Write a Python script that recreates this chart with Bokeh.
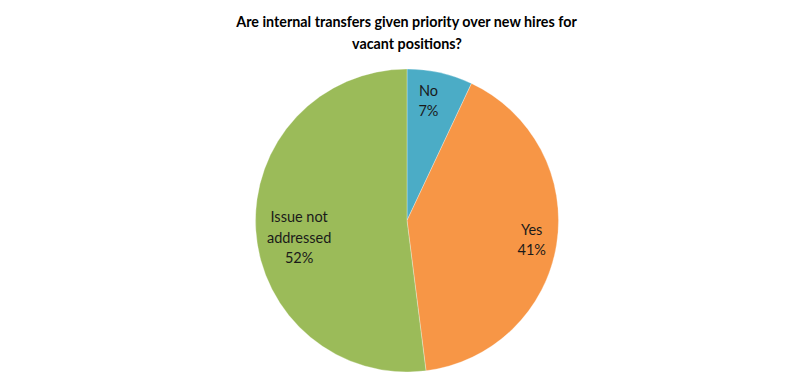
import math
from bokeh.plotting import figure
from bokeh.models import Range1d, ColumnDataSource, Label
from bokeh.core.properties import value
from bokeh.embed import file_html
from bokeh.resources import INLINE

# ---- data ----
categories = ["No", "Yes", "Issue not\naddressed"]
shares = [7, 41, 52]
colors = ["#4BACC6", "#F79646", "#9BBB59"]
title_lines = ["Are internal transfers given priority over new hires for", "vacant positions?"]

# ---- layout ----
W, H = 793, 372
CX, CY = 406.5, 152.0
R = 151.5
label_frac = [0.80, 0.80, 0.72]
label_shift = [(-5, 2), (5, 0), (1, -10)]

total = float(sum(shares))
starts, ends, lx, ly, texts = [], [], [], [], []
cum = 0.0
for i, (c, s) in enumerate(zip(categories, shares)):
    a0 = math.pi / 2 - 2 * math.pi * cum / total
    a1 = math.pi / 2 - 2 * math.pi * (cum + s) / total
    starts.append(a0)
    ends.append(a1)
    mid = (a0 + a1) / 2
    lx.append(CX + label_frac[i] * R * math.cos(mid) + label_shift[i][0])
    ly.append(CY + label_frac[i] * R * math.sin(mid) + label_shift[i][1])
    texts.append(f"{c}\n{s}%")
    cum += s

src = ColumnDataSource(dict(start=starts, end=ends, color=colors,
                            lx=lx, ly=ly, text=texts))

p = figure(width=W, height=H, output_backend="svg", toolbar_location=None,
           x_range=Range1d(0, W), y_range=Range1d(0, H), min_border=0,
           background_fill_color="white", border_fill_color="white")
p.axis.visible = False
p.grid.visible = False
p.outline_line_color = None

p.wedge(x=CX, y=CY, radius=R, start_angle="start", end_angle="end",
        direction="clock", fill_color="color", line_color="white",
        line_alpha=0.6, line_width=0.5, source=src)

p.text(x="lx", y="ly", text="text", source=src, text_align="center",
       text_baseline="middle", text_font=value("Lato"), text_font_size="14.5px",
       text_color="#1a1a1a", text_line_height=1.2)

title_y = [H - 21, H - 43]
for t, yy in zip(title_lines, title_y):
    p.add_layout(Label(x=CX, y=yy, text=t, text_align="center",
                       text_baseline="middle", text_font="Lato",
                       text_font_style="bold", text_font_size="14.3px",
                       text_color="#000000"))

open("out.html", "w").write(file_html(p, INLINE))
